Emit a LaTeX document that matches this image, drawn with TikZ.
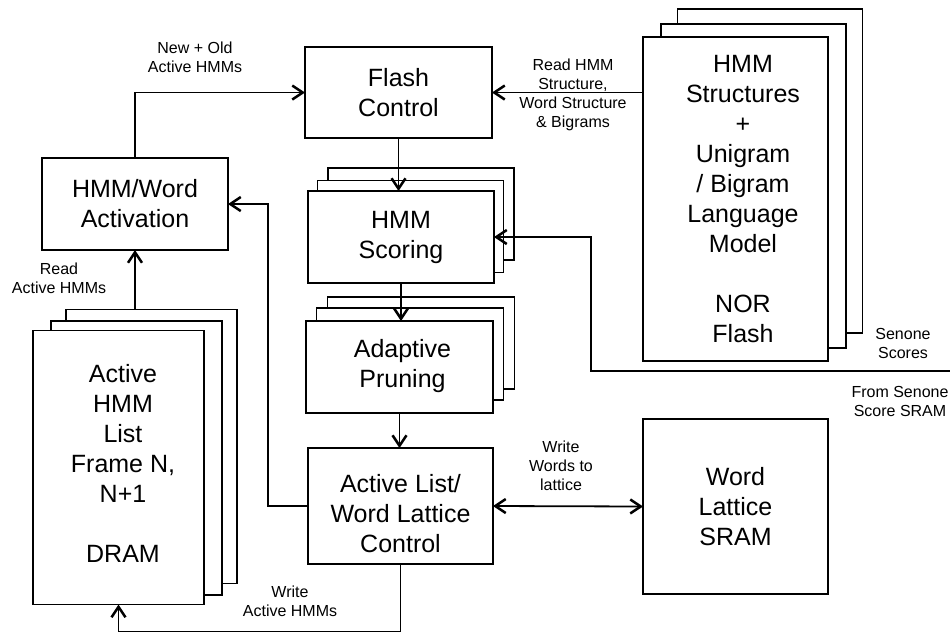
\documentclass[tikz,border=0pt]{standalone}
\usepackage{fontspec}
\setmainfont{Liberation Sans}
\usetikzlibrary{arrows.meta}
\begin{document}
\begin{tikzpicture}[x=1pt,y=-1pt,
  line width=1.8pt,
  blk/.style={draw=black, fill=white, line width=1.9pt, inner sep=0pt, outer sep=0pt,
    align=center, font=\fontsize{25}{30}\selectfont},
  big/.style={align=center, inner sep=0pt, anchor=north, font=\fontsize{25}{30}\selectfont},
  lbl/.style={align=center, inner sep=0pt, anchor=north, font=\fontsize{16}{19}\selectfont},
  barb/.tip={Straight Barb[length=10.5pt,width=14pt,line width=2.5pt]},
  arr/.style={-barb},
  darr/.style={barb-barb},
]
\useasboundingbox[fill=white] (0,0) rectangle (950,633);

% control blocks
\node[blk, minimum width=187, minimum height=91] (flash) at (398.5,92.5) {Flash\\Control};
\node[blk, minimum width=186, minimum height=92] (act) at (135,204) {HMM/Word\\Activation};

% HMM scoring, three units
\node[blk, minimum width=186, minimum height=92] (scor3) at (421,214) {};
\node[blk, minimum width=186, minimum height=92] (scor2) at (410.5,226.5) {};
\node[blk, minimum width=186, minimum height=92] (scor) at (401,237) {HMM\\Scoring};

% adaptive pruning, three units
\node[blk, minimum width=187, minimum height=92] (adap3) at (421,343) {};
\node[blk, minimum width=187, minimum height=92] (adap2) at (410,354) {};
\node[blk, minimum width=187, minimum height=92] (adap) at (399.5,367) {};
\node[big] at (402.5,338.5) {Adaptive\\Pruning};

% active list / word lattice control
\node[blk, minimum width=185, minimum height=116] (actl) at (400.5,506) {};
\node[big] at (400.5,473) {Active List/\\Word Lattice\\Control};

% NOR flash, three banks
\node[blk, minimum width=185, minimum height=324] (nor3) at (770,171) {};
\node[blk, minimum width=185, minimum height=324] (nor2) at (753.5,186) {};
\node[blk, minimum width=185, minimum height=324] (nor) at (735.5,199) {};
\node[big] at (743,54.5) {HMM\\Structures\\+\\Unigram\\/ Bigram\\Language\\Model\\[30pt]NOR\\Flash};

% DRAM, three banks
\node[blk, minimum width=171, minimum height=274] (dram3) at (151.5,446.5) {};
\node[blk, minimum width=171, minimum height=274] (dram2) at (136.5,458) {};
\node[blk, minimum width=171, minimum height=274] (dram) at (118.5,467.5) {};
\node[big] at (123,363) {Active\\HMM\\List\\Frame N,\\N+1\\[30pt]DRAM};

% word lattice SRAM
\node[blk, minimum width=185, minimum height=175] (wl) at (735.5,506.5) {Word\\Lattice\\SRAM};

% connectors
\coordinate (senin) at (960,371);
\coordinate (senbend) at (591,371);
\coordinate (fbk) at (268,506);
\coordinate (wrt) at (0,631.5);

\draw[arr] (act.north) |- (flash.west);
\draw[arr] (flash.east -| nor.west) -- (flash.east);
\draw[arr] (flash.south) -- (flash.south |- scor.north);
\draw[arr] (scor.south) -- (scor.south |- adap.north);
\draw[arr] (adap.south) -- (adap.south |- actl.north);
\draw[arr] (senin) -- (senbend) |- (scor.east);
\draw[arr] (actl.west) -- (fbk) |- (act.east);
\draw[arr] (actl.south) -- (actl.south |- wrt) -| (dram.south);
\draw[arr] (dram3.north -| act.south) -- (act.south);
\draw[darr] (actl.east) -- (wl.west);

% connector labels
\node[lbl] at (195,41.5) {New + Old\\Active HMMs};
\node[lbl] at (573,57.5) {Read HMM\\Structure,\\Word Structure\\\& Bigrams};
\node[lbl] at (59,261.5) {Read\\Active HMMs};
\node[lbl] at (903,327.5) {Senone\\Scores};
\node[lbl] at (900,385) {From Senone\\Score SRAM};
\node[lbl] at (561,440) {Write\\Words to\\lattice};
\node[lbl] at (290,585) {Write\\Active HMMs};
\end{tikzpicture}
\end{document}
